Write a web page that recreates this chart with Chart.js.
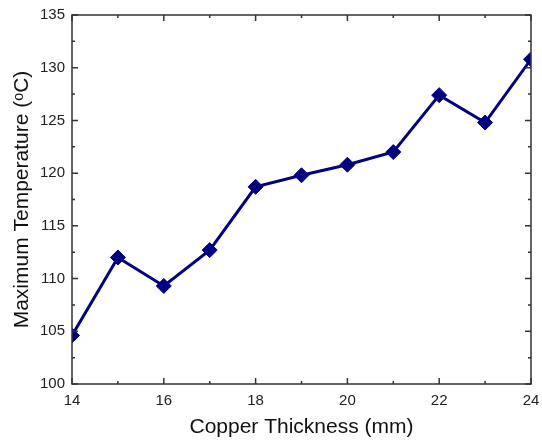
<!DOCTYPE html>
<html>
<head>
<meta charset="utf-8">
<script src="https://cdn.jsdelivr.net/npm/chart.js@4/dist/chart.umd.min.js"></script>
<style>
  html, body { margin: 0; padding: 0; background: #fff; }
  #wrap { width: 542px; height: 440px; }
</style>
</head>
<body>
<div id="wrap"><canvas id="chart" width="542" height="440"></canvas></div>
<script>
// Data
const thickness = [14, 15, 16, 17, 18, 19, 20, 21, 22, 23, 24];
const maxTemp = [104.6, 112.0, 109.3, 112.7, 118.7, 119.8, 120.8, 122.0, 127.4, 124.8, 130.8];

const xRange = [14, 24];
const yRange = [100, 135];

const axisColor = '#333333';
const lineColor = '#000080';

// Box round the plot with inward ticks on all four sides
const frame = {
    id: 'frame',
    afterDatasetsDraw(chart) {
        const { ctx, chartArea: a, scales: { x, y } } = chart;
        ctx.save();
        ctx.strokeStyle = axisColor;
        ctx.lineWidth = 1.5;
        ctx.strokeRect(a.left, a.top, a.right - a.left, a.bottom - a.top);

        ctx.beginPath();
        const xStep = x.options.ticks.stepSize;
        x.ticks.forEach(t => {
            [[t.value, 6], [t.value + xStep / 2, 3]].forEach(([v, len]) => {
                if (v > x.max) return;
                const px = x.getPixelForValue(v);
                ctx.moveTo(px, a.bottom); ctx.lineTo(px, a.bottom - len);
                ctx.moveTo(px, a.top); ctx.lineTo(px, a.top + len);
            });
        });
        const yStep = y.options.ticks.stepSize;
        y.ticks.forEach(t => {
            [[t.value, 6], [t.value + yStep / 2, 3]].forEach(([v, len]) => {
                if (v > y.max) return;
                const py = y.getPixelForValue(v);
                ctx.moveTo(a.left, py); ctx.lineTo(a.left + len, py);
                ctx.moveTo(a.right, py); ctx.lineTo(a.right - len, py);
            });
        });
        ctx.stroke();
        ctx.restore();
    }
};

const font = "Arial, 'Liberation Sans', sans-serif";

new Chart(document.getElementById('chart'), {
    type: 'line',
    data: {
        datasets: [{
            data: thickness.map((t, i) => ({ x: t, y: maxTemp[i] })),
            borderColor: lineColor,
            backgroundColor: lineColor,
            borderWidth: 3,
            pointStyle: 'rectRot',
            pointRadius: 7.5,
            pointBorderWidth: 1,
            pointBorderColor: lineColor,
            pointBackgroundColor: lineColor,
            tension: 0,
            clip: 0
        }]
    },
    options: {
        responsive: false,
        animation: false,
        layout: { padding: { top: 15, right: 11, left: 0, bottom: 0 } },
        plugins: {
            legend: { display: false },
            tooltip: { enabled: false }
        },
        scales: {
            x: {
                type: 'linear',
                min: xRange[0],
                max: xRange[1],
                grid: { display: false, drawTicks: false, tickLength: 0 },
                border: { display: false },
                ticks: {
                    stepSize: 2,
                    padding: 8,
                    color: '#222',
                    font: { family: font, size: 15 }
                },
                title: {
                    display: true,
                    text: 'Copper Thickness (mm)',
                    color: '#111',
                    font: { family: font, size: 21 },
                    padding: { top: 0, bottom: 0 }
                },
                afterFit(scale) {
                    scale.height = 56;
                    scale.paddingLeft = 0;
                    scale.paddingRight = 0;
                }
            },
            y: {
                min: yRange[0],
                max: yRange[1],
                grid: { display: false, drawTicks: false, tickLength: 0 },
                border: { display: false },
                ticks: {
                    stepSize: 5,
                    padding: 7,
                    color: '#222',
                    font: { family: font, size: 15 }
                },
                title: {
                    display: true,
                    text: 'Maximum Temperature (ᵒC)',
                    color: '#111',
                    font: { family: font, size: 21 },
                    padding: { top: 10, bottom: 0 }
                },
                afterFit(scale) {
                    scale.width = 72;
                    scale.paddingTop = 0;
                    scale.paddingBottom = 0;
                }
            }
        }
    },
    plugins: [frame]
});
</script>
</body>
</html>
